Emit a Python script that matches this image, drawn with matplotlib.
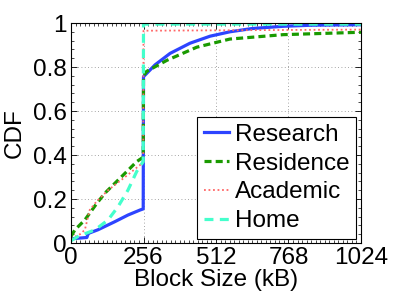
import matplotlib
matplotlib.use("Agg")
import matplotlib.pyplot as plt
from matplotlib.ticker import AutoMinorLocator, MultipleLocator

plt.rcParams['font.family'] = ['Liberation Sans', 'DejaVu Sans']

labels = ["Research", "Residence", "Academic", "Home"]

research_x = [0, 8, 56, 60, 64, 95, 155, 201, 244, 255, 256, 297, 350, 420, 491, 561, 640, 749, 850, 1024]
research_y = [0.02, 0.02, 0.025, 0.04, 0.045, 0.06, 0.097, 0.127, 0.15, 0.155, 0.756, 0.81, 0.862, 0.908, 0.94, 0.96, 0.975, 0.985, 0.99, 0.992]

residence_x = [0, 14, 49, 91, 120, 197, 232, 255, 256, 267, 338, 444, 561, 749, 1024]
residence_y = [0.03, 0.06, 0.105, 0.18, 0.227, 0.325, 0.37, 0.39, 0.76, 0.78, 0.83, 0.89, 0.927, 0.947, 0.958]

academic_x = [0, 32, 49, 66, 91, 131, 191, 244, 255, 256, 1024]
academic_y = [0.02, 0.04, 0.06, 0.15, 0.19, 0.24, 0.30, 0.355, 0.365, 0.965, 0.97]

home_x = [0, 25, 85, 131, 166, 201, 232, 255, 256, 1024]
home_y = [0.01, 0.03, 0.06, 0.105, 0.165, 0.24, 0.325, 0.37, 0.995, 0.995]

xticks = [0, 256, 512, 768, 1024]
yticks = [0, 0.2, 0.4, 0.6, 0.8, 1]
ytick_labels = ["0", "0.2", "0.4", "0.6", "0.8", "1"]

fig = plt.figure(figsize=(3.99, 2.99), dpi=100)
ax = fig.add_axes([71/399, 1-243/299, 290/399, 220/299])

ax.plot(research_x, research_y, color="#2d44ff", lw=2.3, ls="-", label=labels[0])
ax.plot(residence_x, residence_y, color="#1a9a00", lw=2.3, ls=(0, (2.2, 1.3)), label=labels[1])
ax.plot(academic_x, academic_y, color="#ff6666", lw=1.3, ls=(0, (1, 1.5)), label=labels[2])
ax.plot(home_x, home_y, color="#44ffcc", lw=2.3, ls=(0, (2.8, 2.0)), label=labels[3])

ax.set_xlim(0, 1024)
ax.set_ylim(0, 1)
ax.set_xticks(xticks)
ax.set_xticklabels([str(t) for t in xticks])
ax.set_yticks(yticks)
ax.set_yticklabels(ytick_labels)
ax.xaxis.set_minor_locator(MultipleLocator(16))
ax.yaxis.set_minor_locator(AutoMinorLocator(5))
ax.tick_params(which="both", direction="in", top=True, right=True, labelsize=17.5, pad=3)
ax.tick_params(which="major", length=4, width=0.6)
ax.tick_params(which="minor", length=2, width=0.5)
ax.grid(True, which="major", ls=(0, (1, 3)), color="#888888", lw=0.6)
for s in ax.spines.values():
    s.set_linewidth(0.8)

ax.set_xlabel("Block Size (kB)", fontsize=17.5, labelpad=0)
ax.set_ylabel("CDF", fontsize=17.5, labelpad=5)

leg = ax.legend(loc="lower right", bbox_to_anchor=(0.983, 0.018), borderaxespad=0,
                fontsize=17.5, handlelength=1.0, handletextpad=0.25,
                labelspacing=0.28, borderpad=0.28, fancybox=False, framealpha=1,
                edgecolor="black")
leg.get_frame().set_linewidth(0.8)

fig.savefig("out.png", dpi=100)
